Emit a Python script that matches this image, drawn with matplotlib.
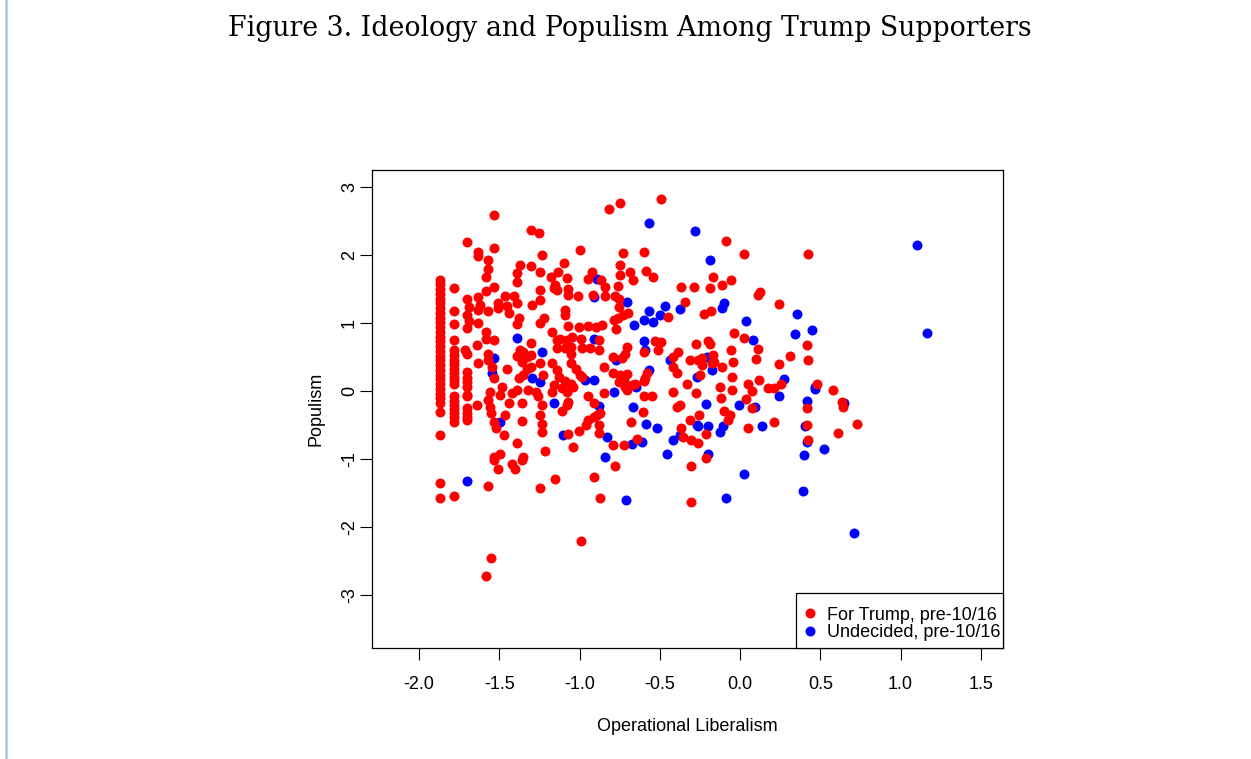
import matplotlib

matplotlib.use("Agg")
import matplotlib.pyplot as plt
from matplotlib.lines import Line2D
from matplotlib.patches import Rectangle

# Operational liberalism (x) and populism (y) scores, respondents for Trump
trump_x = [
    -1.53, -1.305, -1.25, -1.70, -1.53, -1.63, -1.63, -1.235, -1.57, -1.37,
    -1.30, -1.57, -1.39, -1.245, -1.58, -1.18, -1.39, -1.78, -1.53, -1.585,
    -1.63, -1.70, -1.465, -1.41, -1.245, -1.245, -1.16, -1.51, -1.455, -1.39,
    -1.295, -1.62, -1.69, -1.785, -1.70, -1.63, -1.57, -1.505, -1.44, -1.38,
    -1.22, -1.69, -1.63, -1.39, -1.245,
    # column of respondents at the scale minimum
    -1.868, -1.868, -1.868, -1.868, -1.868, -1.868, -1.868, -1.868, -1.868, -1.868,
    -1.868, -1.868, -1.868, -1.868, -1.868, -1.868, -1.868, -1.868, -1.868, -1.868,
    -1.868, -1.868, -1.868, -1.868, -1.868, -1.868, -1.868, -1.868, -1.868, -1.868,
    -1.868,
    -1.78, -1.78, -1.78, -1.78, -1.78, -1.78, -1.78, -1.78, -1.78, -1.78,
    -1.78, -1.78, -1.78, -1.78, -1.78, -1.78, -1.78, -1.78,
    -1.70, -1.715, -1.70, -1.70, -1.70, -1.70, -1.70, -1.70, -1.70, -1.70,
    -1.70, -1.70, -1.70,
    -1.64, -1.64, -1.58, -1.58, -1.53, -1.57, -1.57, -1.63, -1.547, -1.53,
    -1.56, -1.57, -1.56, -1.55, -1.485, -1.495, -1.465, -1.53, -1.52, -1.47,
    -1.17, -1.30, -1.39, -1.35, -1.36, -1.30, -1.45, -1.33, -1.30, -1.245,
    -1.17, -1.35, -1.38, -1.226, -1.16, -1.17, -1.39, -1.42, -1.32, -1.27,
    -1.26, -1.36, -1.44, -1.235, -1.245, -1.235, -1.235, -1.36, -1.39, -1.215,
    -1.495, -1.53, -1.35, -1.37, -1.33,
    -1.53, -1.42, -1.40, -1.51, -1.36, -1.78, -1.57, -1.245, -1.15, -1.553,
    -1.58,
    -0.49, -0.75, -0.815, -1.00, -0.73, -0.60, -1.097, -0.747, -1.136, -0.925,
    -0.685, -0.587, -0.75, -0.54, -0.945, -0.866, -1.08, -0.67, -1.15, -0.76,
    -0.84, -1.07, -0.367, -1.14, -1.07, -1.01, -0.918, -0.84, -0.78, -0.757,
    -0.757, -1.09, -1.09, -0.70, -0.73, -0.76, -0.785, -0.45, -0.34,
    -0.09, 0.025, 0.425, -0.166, -0.058, -0.114, -0.285, -0.19, 0.125, 0.11,
    0.24, -0.18, -0.224,
    -1.07, -1.005, -0.95, -0.90, -0.86, -0.77, -1.14, -1.12, -1.08, -1.05,
    -0.99, -0.88, -1.055, -1.09, -1.055, -0.985, -0.934, -0.88, -1.14, -0.53,
    -0.49, -0.705, -0.716, -0.735, -0.60, -0.51, -0.79, -0.415, -0.384, -0.415,
    -0.394, -0.85, -1.14, -1.13, -1.055, -1.02, -1.00, -0.985, -1.09, -1.055,
    -1.11, -1.04, -1.08, -0.79, -0.747, -0.705, -0.726, -0.757, -0.716, -0.674,
    -0.654, -0.705, -0.58, -0.59, -0.60, -0.85, -1.07, -1.08, -1.11, -0.945,
    -0.907, -0.87, -0.89, -0.91, -0.95, -0.96, -0.88, -0.88, -1.006, -1.074,
    -1.04, -0.79, -0.726, -0.60, -0.55, -0.606, -0.415, -0.374, -0.394, -0.68,
    -0.367, -0.353, -0.643,
    -0.78, -0.91, -0.875, -0.99, -0.307, -0.305,
    -0.035, 0.027, -0.274, -0.197, -0.187, 0.114, 0.415, -0.056, -0.31, -0.26,
    -0.24, -0.166, -0.16, -0.176, -0.24, 0.098, 0.31, 0.425, -0.042, -0.11,
    0.24, -0.25, -0.33, -0.052, 0.118, 0.176, 0.214, 0.256, -0.125, -0.052,
    0.048, 0.073, -0.276, -0.118, 0.037, 0.077, 0.415, -0.098, -0.062, -0.073,
    -0.255, -0.31, 0.052, 0.214, -0.214, 0.415, -0.305, -0.26, 0.425, -0.214,
    0.477, 0.58, 0.633, 0.643, 0.727, 0.608,
]
trump_y = [
    2.59, 2.37, 2.33, 2.19, 2.10, 2.05, 1.98, 2.00, 1.93, 1.85,
    1.84, 1.79, 1.74, 1.75, 1.68, 1.68, 1.60, 1.51, 1.53, 1.47,
    1.38, 1.36, 1.39, 1.39, 1.49, 1.34, 1.51, 1.29, 1.25, 1.29,
    1.26, 1.26, 1.23, 1.17, 1.12, 1.19, 1.17, 1.22, 1.14, 1.07,
    1.08, 1.03, 1.00, 0.99, 1.00,
    1.63, 1.57, 1.50, 1.43, 1.36, 1.29, 1.22, 1.15, 1.08, 1.01,
    0.94, 0.87, 0.80, 0.73, 0.66, 0.59, 0.52, 0.45, 0.38, 0.31,
    0.24, 0.17, 0.10, 0.03, -0.04, -0.11, -0.18, -0.31, -0.65, -1.35,
    -1.58,
    0.99, 0.75, 0.60, 0.53, 0.46, 0.40, 0.33, 0.27, 0.21, 0.16,
    0.11, -0.08, -0.14, -0.21, -0.27, -0.33, -0.39, -0.45,
    0.92, 0.60, 0.55, 0.28, 0.19, 0.13, 0.06, -0.06, -0.08, -0.25,
    -0.32, -0.38, -0.43,
    0.68, -0.20, 0.87, 0.77, 0.75, 0.55, 0.46, 0.41, 0.36, 0.19,
    -0.01, -0.13, -0.23, -0.33, 0.06, -0.06, -0.35, -0.45, -0.55, -0.65,
    0.87, 0.70, 0.52, 0.57, 0.43, 0.53, 0.33, 0.33, 0.36, 0.41,
    0.41, 0.24, 0.19, 0.24, 0.09, -0.01, 0.01, -0.03, 0.01, -0.01,
    -0.08, -0.17, -0.18, -0.21, -0.35, -0.48, -0.60, -0.44, -0.77, -0.89,
    -0.92, -0.97, -0.97, 0.60, 0.50,
    -1.01, -1.07, -1.15, -1.15, -1.01, -1.54, -1.40, -1.42, -1.30, -2.45,
    -2.72,
    2.83, 2.76, 2.67, 2.08, 2.03, 2.05, 1.88, 1.85, 1.75, 1.75,
    1.75, 1.76, 1.71, 1.68, 1.64, 1.63, 1.66, 1.63, 1.56, 1.54,
    1.53, 1.50, 1.53, 1.49, 1.41, 1.39, 1.41, 1.40, 1.40, 1.36,
    1.24, 1.19, 1.12, 1.15, 1.12, 1.07, 1.04, 1.09, 1.31,
    2.21, 2.02, 2.02, 1.67, 1.63, 1.56, 1.53, 1.51, 1.46, 1.41,
    1.28, 1.17, 1.13,
    0.96, 0.94, 0.96, 0.94, 0.97, 0.91, 0.75, 0.77, 0.75, 0.80,
    0.77, 0.75, 0.65, 0.63, 0.55, 0.63, 0.63, 0.60, 0.63, 0.74,
    0.72, 0.65, 0.55, 0.48, 0.58, 0.60, 0.50, 0.50, 0.58, 0.36,
    0.26, 0.36, 0.31, 0.21, 0.41, 0.33, 0.24, 0.20, 0.14, 0.11,
    0.04, 0.06, -0.01, 0.26, 0.24, 0.25, 0.16, 0.13, 0.06, 0.09,
    0.11, 0.01, 0.26, 0.19, 0.14, -0.03, -0.16, -0.21, -0.29, -0.08,
    -0.17, -0.33, -0.35, -0.38, -0.43, -0.50, -0.50, -0.62, -0.59, -0.64,
    -0.83, -0.79, -0.79, -0.08, -0.08, -0.31, -0.02, -0.20, -0.23, -0.46,
    -0.54, -0.67, -0.70,
    -1.10, -1.27, -1.57, -2.20, -1.11, -1.64,
    0.85, 0.78, 0.69, 0.74, 0.69, 0.62, 0.68, 0.60, 0.46, 0.46,
    0.48, 0.53, 0.43, 0.41, 0.38, 0.47, 0.52, 0.46, 0.42, 0.36,
    0.39, 0.24, 0.11, 0.21, 0.16, 0.04, 0.05, 0.10, 0.06, 0.01,
    0.10, 0.00, -0.03, -0.10, -0.12, -0.25, -0.25, -0.30, -0.35, -0.43,
    -0.36, -0.43, -0.55, -0.46, -0.64, -0.50, -0.72, -0.77, -0.72, -0.99,
    0.10, 0.02, -0.16, -0.23, -0.49, -0.62,
]

# Undecided respondents
undecided_x = [
    -0.567, -0.89, -0.91, -0.705, -0.57, -0.467, -0.372, -0.50, -0.60, -0.544,
    -0.66, -0.28, -0.187, -0.10, -0.114, 0.04, 0.353,
    -1.536, -1.545, -1.495, -1.39, -1.232, -1.295, -1.245, -1.16,
    -0.91, -0.60, -0.59, -0.77, -0.436, -0.965, -0.91, -0.648, -0.57, -0.785,
    -0.88, -1.10, -0.83, -0.84, -0.668, -0.587, -0.519, -0.374, -0.674, -0.608,
    -0.415, -0.456,
    0.083, 0.342, 0.446, -0.207, -0.176, -0.27, 0.276, 0.467, 0.24, -0.214,
    -0.006, 0.093, 0.415, -0.27, -0.26, -0.197, -0.104, -0.125, 0.135, 0.405,
    0.415, -0.197, 0.40,
    -1.70, -0.71, 0.027, -0.087, 0.394,
    1.10, 1.163, 0.467, 0.648, 0.523, 0.712,
]
undecided_y = [
    2.47, 1.64, 1.38, 1.31, 1.17, 1.25, 1.21, 1.12, 1.05, 1.02,
    0.97, 2.35, 1.93, 1.30, 1.22, 1.03, 1.13,
    0.48, 0.26, -0.45, 0.78, 0.58, 0.19, 0.13, -0.18,
    0.77, 0.73, 0.60, 0.46, 0.46, 0.16, 0.16, 0.06, 0.31, -0.02,
    -0.22, -0.65, -0.67, -0.97, -0.24, -0.49, -0.54, -0.65, -0.78, -0.75,
    -0.72, -0.93,
    0.75, 0.84, 0.90, 0.50, 0.31, 0.21, 0.18, 0.06, -0.08, -0.19,
    -0.21, -0.24, -0.15, -0.50, -0.52, -0.51, -0.52, -0.60, -0.51, -0.51,
    -0.75, -0.92, -0.94,
    -1.32, -1.61, -1.22, -1.58, -1.47,
    2.15, 0.86, 0.03, -0.18, -0.86, -2.09,
]

x_ticks = [-2.0, -1.5, -1.0, -0.5, 0.0, 0.5, 1.0, 1.5]
y_ticks = [-3, -2, -1, 0, 1, 2, 3]

plt.rcParams["font.family"] = ["Liberation Sans", "DejaVu Sans"]
plt.rcParams["axes.unicode_minus"] = False

W, H = 1251, 759
fig = plt.figure(figsize=(W / 100, H / 100), dpi=100)
ax = fig.add_axes([372 / W, 1 - 648 / H, (1003 - 372) / W, (648 - 170) / H])

ax.plot(undecided_x, undecided_y, "o", color="#0000ff", markersize=7.2,
        markeredgewidth=0, label="Undecided, pre-10/16", zorder=2)
ax.plot(trump_x, trump_y, "o", color="#ff0000", markersize=7.2,
        markeredgewidth=0, label="For Trump, pre-10/16", zorder=3)

ax.set_xlim(-2.293, 1.638)
ax.set_ylim(-3.78, 3.25)
ax.set_xticks(x_ticks)
ax.set_xticklabels([f"{v:.1f}" for v in x_ticks])
ax.set_yticks(y_ticks)
ax.set_yticklabels([str(v) for v in y_ticks], rotation=90, va="center")
ax.tick_params(direction="out", length=8.6, width=0.8, labelsize=13)
ax.tick_params(axis="x", pad=11.9)
ax.tick_params(axis="y", pad=1.5)
for side in ax.spines.values():
    side.set_linewidth(0.9)

ax.set_xlabel("Operational Liberalism", fontsize=13, labelpad=18)
ax.set_ylabel("Populism", fontsize=13, labelpad=12)

# legend box sits in the lower right corner, text running close to its right edge
box = Rectangle((796 / W, 1 - 648 / H), 207 / W, 55 / H, transform=fig.transFigure,
                facecolor="white", edgecolor="black", linewidth=0.9,
                clip_on=False, zorder=4.5)
ax.add_patch(box)
handles, labels = ax.get_legend_handles_labels()
leg = ax.legend(handles[::-1], labels[::-1], loc="lower right",
                bbox_to_anchor=(1001 / W, 1 - 641 / H), bbox_transform=fig.transFigure,
                fontsize=13, frameon=False, borderaxespad=0, borderpad=0,
                handlelength=0.8, handletextpad=0.55, labelspacing=0.02)
leg.set_zorder(5)

fig.text(630 / W, 1 - 29 / H, "Figure 3. Ideology and Populism Among Trump Supporters",
         ha="center", va="center", fontsize=19.3, family="DejaVu Serif")

# page margin rule on the left edge
fig.add_artist(Line2D([6 / W, 6 / W], [0, 1], color="#b4c7e7", linewidth=2))

fig.savefig("out.png", dpi=100)
